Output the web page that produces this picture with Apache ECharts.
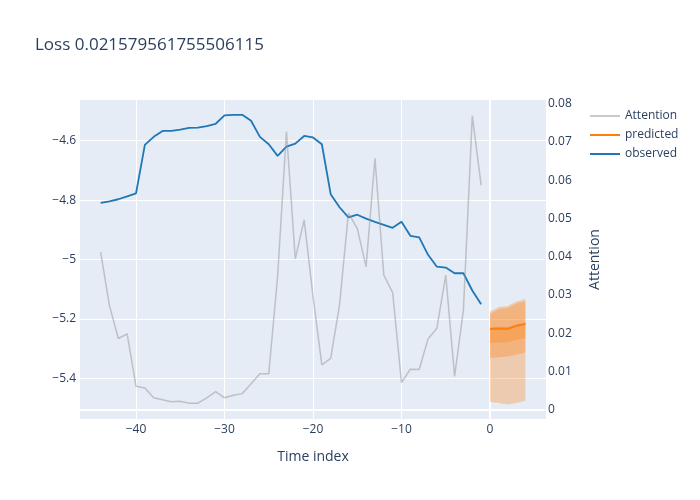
<!DOCTYPE html>
<html>
<head>
<meta charset="utf-8">
<script src="https://cdn.jsdelivr.net/npm/echarts@6/dist/echarts.min.js"></script>
<style>html,body{margin:0;padding:0;background:#fff}#c{width:700px;height:500px}</style>
</head>
<body>
<div id="c"></div>
<script>
const titleText = 'Loss 0.021579561755506115';
const timeObserved = [-44,-43,-42,-41,-40,-39,-38,-37,-36,-35,-34,-33,-32,-31,-30,-29,-28,-27,-26,-25,-24,-23,-22,-21,-20,-19,-18,-17,-16,-15,-14,-13,-12,-11,-10,-9,-8,-7,-6,-5,-4,-3,-2,-1];
const observed = [-4.809,-4.804,-4.797,-4.787,-4.777,-4.614,-4.587,-4.567,-4.567,-4.563,-4.557,-4.556,-4.551,-4.543,-4.515,-4.513,-4.513,-4.533,
  -4.587,-4.612,-4.651,-4.620,-4.610,-4.584,-4.589,-4.612,-4.780,-4.824,-4.858,-4.849,-4.862,-4.873,-4.883,-4.893,-4.873,-4.920,-4.925,-4.984,-5.024,-5.027,-5.046,-5.046,-5.104,-5.150];
const attention = [0.0412,0.0272,0.0186,0.0198,0.0061,0.0057,0.0031,0.0026,0.0021,0.0022,
  0.0017,0.0017,0.0031,0.0047,0.0031,0.0038,0.0042,0.0068,0.0094,0.0094,
  0.0348,0.0727,0.0394,0.0496,0.0296,0.0117,0.0134,0.0274,0.0514,0.0474,
  0.0374,0.0657,0.0352,0.0306,0.0071,0.0106,0.0105,0.0185,0.0213,0.0352,
  0.0087,0.0261,0.0768,0.0587];
const timePredicted = [0,1,2,3,4];
const predicted = [-5.234,-5.232,-5.233,-5.223,-5.217];
const outerUpper = [-5.175,-5.160,-5.156,-5.141,-5.133];
const outerLower = [-5.479,-5.483,-5.488,-5.483,-5.475];
const midUpper = [-5.182,-5.167,-5.163,-5.148,-5.140];
const midLower = [-5.331,-5.329,-5.326,-5.320,-5.313];
const innerUpper = [-5.228,-5.226,-5.228,-5.218,-5.211];
const innerLower = [-5.281,-5.279,-5.278,-5.270,-5.264];
const xTicks = [-40,-30,-20,-10,0];
const yLeftTicks = [-5.4,-5.2,-5,-4.8,-4.6];
const yRightTicks = [0,0.01,0.02,0.03,0.04,0.05,0.06,0.07,0.08];

const FONT = '"Open Sans", sans-serif';
const TXT = '#2a3f5f';
const pair = (xs, ys) => xs.map((x, i) => [x, ys[i]]);
const minus = v => String(v).replace('-', '\u2212');

function band(name, lower, upper) {
  return {
    name: name, type: 'custom', silent: true, z: 3,
    data: timePredicted.map((t, i) => [t, lower[i], upper[i]]),
    encode: { x: 0, y: [1, 2] },
    renderItem: function (params, api) {
      if (params.dataIndexInside !== 0) return null;
      const n = params.dataInsideLength;
      const top = [], bottom = [];
      for (let j = 0; j < n; j++) {
        top.push(api.coord([api.value(0, j), api.value(2, j)]));
        bottom.push(api.coord([api.value(0, j), api.value(1, j)]));
      }
      return {
        type: 'polygon',
        shape: { points: top.concat(bottom.reverse()) },
        style: { fill: 'rgba(255,127,14,0.3)', stroke: null }
      };
    }
  };
}

const chart = echarts.init(document.getElementById('c'), null, { renderer: 'canvas' });
chart.setOption({
  animation: false,
  backgroundColor: '#fff',
  textStyle: { fontFamily: FONT },
  title: { text: titleText, left: 30, top: 32, textStyle: { fontFamily: FONT, fontSize: 17, fontWeight: 'normal', color: TXT } },
  legend: {
    data: ['Attention', 'predicted', 'observed'], orient: 'vertical', left: 585, top: 105,
    icon: 'rect', itemWidth: 30, itemHeight: 2, itemGap: 7,
    textStyle: { fontFamily: FONT, fontSize: 12, color: TXT }
  },
  grid: { left: 80, right: 154, top: 100, bottom: 81, show: true, backgroundColor: '#E5ECF6', borderWidth: 0 },
  xAxis: {
    type: 'value', min: -46.33, max: 6.33,
    name: 'Time index', nameLocation: 'middle', nameGap: 31,
    nameTextStyle: { fontFamily: FONT, fontSize: 14, color: TXT },
    axisLine: { show: false }, axisTick: { show: false, customValues: xTicks },
    axisLabel: { customValues: xTicks, formatter: minus, fontFamily: FONT, fontSize: 12, color: TXT, margin: 5 },
    splitLine: { show: true, lineStyle: { color: '#fff', width: 1 } }
  },
  yAxis: [
    { type: 'value', min: -5.5365, max: -4.463, position: 'left',
      axisLine: { show: false }, axisTick: { show: false, customValues: yLeftTicks },
      axisLabel: { customValues: yLeftTicks, formatter: minus, fontFamily: FONT, fontSize: 12, color: TXT, margin: 4 },
      splitLine: { show: true, lineStyle: { color: '#fff', width: 1 } } },
    { type: 'value', min: -0.00243, max: 0.08094, position: 'right',
      name: 'Attention', nameLocation: 'middle', nameGap: 42, nameRotate: 90,
      nameTextStyle: { fontFamily: FONT, fontSize: 14, color: TXT },
      axisLine: { show: false }, axisTick: { show: false, customValues: yRightTicks },
      axisLabel: { customValues: yRightTicks, formatter: v => (v === 0 ? '0' : v.toFixed(2)), fontFamily: FONT, fontSize: 12, color: TXT, margin: 2 },
      splitLine: { show: false } }
  ],
  series: [
    band('outer', outerLower, outerUpper),
    band('mid', midLower, midUpper),
    band('inner', innerLower, innerUpper),
    { name: 'predicted', type: 'line', data: pair(timePredicted, predicted), symbol: 'none',
      lineStyle: { color: '#ff7f0e', width: 2 }, itemStyle: { color: '#ff7f0e' }, z: 4 },
    { name: 'observed', type: 'line', data: pair(timeObserved, observed), symbol: 'none',
      lineStyle: { color: '#1f77b4', width: 1.8 }, itemStyle: { color: '#1f77b4' }, z: 4 },
    { name: 'Attention', type: 'line', yAxisIndex: 1, data: pair(timeObserved, attention), symbol: 'none',
      lineStyle: { color: 'rgba(150,150,150,0.5)', width: 1.5 }, itemStyle: { color: 'rgba(150,150,150,0.5)' }, z: 5,
      markLine: { silent: true, symbol: 'none', label: { show: false }, z: 1,
        lineStyle: { color: '#fff', width: 2, type: 'solid' },
        data: [{ yAxis: 0 }, { xAxis: 0 }] } }
  ]
});
</script>
</body>
</html>
